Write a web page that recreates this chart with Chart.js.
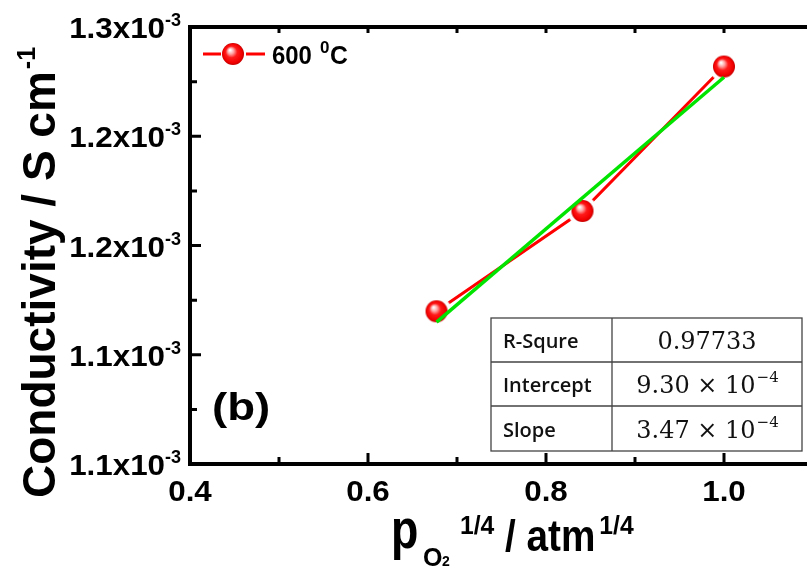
<!DOCTYPE html>
<html>
<head>
<meta charset="utf-8">
<script src="https://cdn.jsdelivr.net/npm/chart.js@4.4.1/dist/chart.umd.min.js"></script>
<style>
  html, body { margin: 0; padding: 0; background: #fff; overflow: hidden; }
  #wrap { width: 807px; height: 568px; overflow: hidden; position: relative; }
  #chart { position: absolute; left: 0; top: 0; }
</style>
</head>
<body>
<div id="wrap"><canvas id="chart" width="830" height="568"></canvas></div>
<script>
// conductivity at 600 C vs pO2^(1/4)
const pO2 = [0.677, 0.841, 1.0];
const conductivity = [1.1699e-3, 1.2158e-3, 1.2819e-3];

// linear fit results (shown in the table)
const fitRSquare = "0.97733";
const fitIntercept = 9.30e-4;
const fitSlope = 3.47e-4;

const xTicks = [0.4, 0.6, 0.8, 1.0];
const xTickLabels = ["0.4", "0.6", "0.8", "1.0"];
const xMinorTicks = [0.5, 0.7, 0.9];
const yTicks = [1.1e-3, 1.15e-3, 1.2e-3, 1.25e-3, 1.3e-3];
const yTickLabels = ["1.1x10", "1.1x10", "1.2x10", "1.2x10", "1.3x10"];
const yTickExp = "-3";
const yMinorTicks = [1.125e-3, 1.175e-3, 1.225e-3, 1.275e-3];

const SANS = "'Liberation Sans', Arial, sans-serif";

// shaded red ball marker, optionally with a white halo that cuts the line
function ball(r, halo) {
  const R = Math.max(r, halo);
  const c = document.createElement("canvas");
  c.width = c.height = R * 2;
  const g = c.getContext("2d");
  if (halo > r) {
    g.fillStyle = "#fff";
    g.beginPath(); g.arc(R, R, halo, 0, Math.PI * 2); g.fill();
  }
  const grad = g.createRadialGradient(R - 3, R - 4, 0.5, R, R, r);
  grad.addColorStop(0, "#ffffff");
  grad.addColorStop(0.25, "#ffa0a0");
  grad.addColorStop(0.5, "#ff1a1a");
  grad.addColorStop(0.85, "#f20000");
  grad.addColorStop(1, "#c40000");
  g.fillStyle = grad;
  g.beginPath(); g.arc(R, R, r, 0, Math.PI * 2); g.fill();
  return c;
}

function text(ctx, str, x, y, font, align, sx) {
  sx = sx || 1;
  ctx.save();
  ctx.font = font;
  ctx.textAlign = "left";
  ctx.textBaseline = "alphabetic";
  const w = ctx.measureText(str).width * sx;
  const x0 = align === "center" ? x - w / 2 : align === "right" ? x - w : x;
  ctx.translate(x0, y);
  ctx.scale(sx, 1);
  ctx.fillText(str, 0, 0);
  ctx.restore();
  return w;
}

function width(ctx, str, font, sx) {
  ctx.save();
  ctx.font = font;
  const w = ctx.measureText(str).width * (sx || 1);
  ctx.restore();
  return w;
}

const decorations = {
  id: "decorations",
  afterDraw(chart) {
    const { ctx, chartArea: a } = chart;
    const xs = chart.scales.x, ys = chart.scales.y;
    ctx.save();
    ctx.fillStyle = "#000";
    ctx.strokeStyle = "#000";

    // frame
    ctx.lineWidth = 4;
    ctx.lineCap = "square";
    ctx.beginPath();
    ctx.moveTo(a.left, a.top); ctx.lineTo(a.right, a.top);
    ctx.moveTo(a.left, a.top); ctx.lineTo(a.left, a.bottom);
    ctx.moveTo(a.left, a.bottom); ctx.lineTo(a.right, a.bottom);
    ctx.moveTo(a.right, a.top); ctx.lineTo(a.right, a.bottom);
    ctx.stroke();

    // inward ticks
    ctx.lineWidth = 3;
    ctx.lineCap = "butt";
    ctx.beginPath();
    xTicks.forEach(v => {
      const px = xs.getPixelForValue(v);
      ctx.moveTo(px, a.bottom); ctx.lineTo(px, a.bottom - 11);
      ctx.moveTo(px, a.top); ctx.lineTo(px, a.top + 6);
    });
    xMinorTicks.forEach(v => {
      const px = xs.getPixelForValue(v);
      ctx.moveTo(px, a.bottom); ctx.lineTo(px, a.bottom - 7);
      ctx.moveTo(px, a.top); ctx.lineTo(px, a.top + 6);
    });
    yTicks.forEach(v => {
      const py = ys.getPixelForValue(v);
      ctx.moveTo(a.left, py); ctx.lineTo(a.left + 11, py);
    });
    yMinorTicks.forEach(v => {
      const py = ys.getPixelForValue(v);
      ctx.moveTo(a.left, py); ctx.lineTo(a.left + 7, py);
    });
    ctx.stroke();

    // tick labels
    const tickFont = "bold 29px " + SANS;
    const expFont = "bold 18px " + SANS;
    xTicks.forEach((v, i) => {
      text(ctx, xTickLabels[i], xs.getPixelForValue(v), a.bottom + 37, tickFont, "center", 1.08);
    });
    yTicks.forEach((v, i) => {
      const py = ys.getPixelForValue(v);
      const we = width(ctx, yTickExp, expFont);
      text(ctx, yTickExp, a.left - 9, py - 1, expFont, "right");
      text(ctx, yTickLabels[i], a.left - 9 - we, py + 11, tickFont, "right", 1.08);
    });

    // y axis title
    ctx.save();
    ctx.translate(55, 498);
    ctx.rotate(-Math.PI / 2);
    const wt = text(ctx, "Conductivity / S cm", 0, 0, "bold 46px " + SANS, "left");
    text(ctx, "-1", wt + 2, -20, "bold 25px " + SANS, "left");
    ctx.restore();

    // x axis title
    text(ctx, "p", 391, 548, "bold 56px " + SANS, "left", 0.8);
    text(ctx, "O", 423, 566, "bold 25px " + SANS, "left");
    text(ctx, "2", 442, 566, "bold 14px " + SANS, "left");
    text(ctx, "1/4", 460, 534, "bold 26px " + SANS, "left", 0.95);
    const wa = text(ctx, "/ atm", 505, 551, "bold 44px " + SANS, "left", 0.88);
    text(ctx, "1/4", 505 + wa + 4, 534, "bold 26px " + SANS, "left", 0.95);

    // legend
    ctx.strokeStyle = "#ff0000";
    ctx.lineWidth = 3;
    ctx.beginPath();
    ctx.moveTo(203, 54); ctx.lineTo(221, 54);
    ctx.moveTo(246, 54); ctx.lineTo(265, 54);
    ctx.stroke();
    const lb = ball(11, 0);
    ctx.drawImage(lb, 233 - 11, 54 - 11);
    ctx.fillStyle = "#000";
    text(ctx, "600", 272, 64, "bold 26px " + SANS, "left", 0.92);
    text(ctx, "0", 320, 53, "bold 17px " + SANS, "left");
    text(ctx, "C", 330, 64, "bold 26px " + SANS, "left", 0.95);

    // panel label
    text(ctx, "(b)", 212, 420, "bold 38px " + SANS, "left", 1.2);

    // fit table
    const tl = 491, tr = 802, tt = 318, tb = 451, tc = 612;
    const rows = [tt, 362, 406, tb];
    ctx.fillStyle = "#fff";
    ctx.fillRect(tl, tt, tr - tl, tb - tt);
    ctx.strokeStyle = "#444";
    ctx.lineWidth = 1.3;
    ctx.strokeRect(tl, tt, tr - tl, tb - tt);
    ctx.beginPath();
    ctx.moveTo(tc, tt); ctx.lineTo(tc, tb);
    rows.slice(1, 3).forEach(ry => { ctx.moveTo(tl, ry); ctx.lineTo(tr, ry); });
    ctx.stroke();
    ctx.fillStyle = "#111";
    const labFont = "600 20px 'Open Sans', 'Noto Sans', sans-serif";
    const numFont = "24px 'DejaVu Serif', serif";
    const supFont = "15px 'DejaVu Serif', serif";
    const mid = (tc + tr) / 2;
    const names = ["R-Squre", "Intercept", "Slope"];
    names.forEach((n, i) => {
      const cy = (rows[i] + rows[i + 1]) / 2;
      text(ctx, n, 503, cy + 8, labFont, "left");
    });
    text(ctx, fitRSquare, mid, (rows[0] + rows[1]) / 2 + 9, numFont, "center");
    [[fitIntercept, 1], [fitSlope, 2]].forEach(([v, i]) => {
      const cy = (rows[i] + rows[i + 1]) / 2 + 9;
      const base = (v * 1e4).toFixed(2) + " \u00d7 10";
      const wb = width(ctx, base, numFont);
      const ws = width(ctx, "\u22124", supFont);
      const x0 = mid - (wb + ws) / 2;
      text(ctx, base, x0, cy, numFont, "left");
      text(ctx, "\u22124", x0 + wb + 1, cy - 11, supFont, "left");
    });
    ctx.restore();
  },
};

const fitX = [pO2[0], pO2[pO2.length - 1]];

new Chart(document.getElementById("chart"), {
  type: "scatter",
  data: {
    datasets: [
      {
        label: "600 0C",
        data: pO2.map((x, i) => ({ x, y: conductivity[i] })),
        showLine: true,
        borderColor: "#ff0000",
        borderWidth: 3,
        pointStyle: ball(11, 15),
        pointRadius: 11,
        pointHoverRadius: 11,
        order: 1,
      },
      {
        label: "Linear fit",
        data: fitX.map(x => ({ x, y: fitIntercept + fitSlope * x })),
        showLine: true,
        borderColor: "#00e400",
        borderWidth: 3.5,
        pointRadius: 0,
        pointHoverRadius: 0,
        order: 0,
      },
    ],
  },
  options: {
    responsive: false,
    animation: false,
    devicePixelRatio: 1,
    events: [],
    layout: { padding: { left: 190, top: 27, right: 17, bottom: 104 } },
    scales: {
      x: { type: "linear", display: false, min: 0.4, max: 1.1 },
      y: { type: "linear", display: false, min: 1.1e-3, max: 1.3e-3 },
    },
    plugins: {
      legend: { display: false },
      tooltip: { enabled: false },
    },
  },
  plugins: [decorations],
});
</script>
</body>
</html>
